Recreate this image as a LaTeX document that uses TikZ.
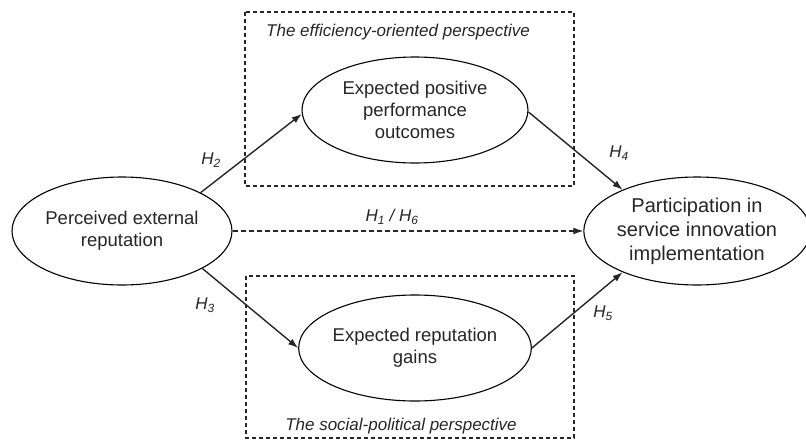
\documentclass[tikz,border=0pt]{standalone}
\usepackage{fontspec}
\setmainfont{Liberation Sans}
\usetikzlibrary{shapes.geometric,arrows.meta}

\begin{document}
\begin{tikzpicture}[x=1pt,y=-1pt]
		\tikzset{> = {Latex[length = 10pt, width = 7pt]}}
		\tikzset{construct/.style = {draw, ellipse, inner sep = 0pt, align = center, line width = 1.1pt, text = black!85, font = \fontsize{18.5}{22}\selectfont}}
		\tikzset{hyp/.style = {->, line width = 1.4pt, black!85}}
		\tikzset{group/.style = {dash pattern = on 4pt off 3pt, line width = 1.2pt, black!85}}
		\tikzset{hlabel/.style = {font = \fontsize{17}{20}\selectfont\itshape, text = black!85}}
		\useasboundingbox (0,0) rectangle (806,447);
		% perspectives
		\draw[group] (245,12) rectangle (574,186);
		\draw[group] (246,276) rectangle (574,438);
		\node[hlabel] (TE) at (398,32) {The efficiency-oriented perspective};
		\node[hlabel] (TS) at (401,426) {The social-political perspective};
		% constructs
		\node[construct, minimum width = 220pt, minimum height = 108pt] (R) at (122,231) {Perceived external\\reputation};
		\node[construct, minimum width = 226pt, minimum height = 106pt] (E) at (415,110) {Expected positive\\performance\\outcomes};
		\node[construct, minimum width = 226pt, minimum height = 106pt] (G) at (415,348) {Expected reputation\\gains};
		\node[construct, minimum width = 214pt, minimum height = 108pt, font = \fontsize{20}{24}\selectfont] (P) at (697,231) {Participation in\\service innovation\\implementation};
		% hypotheses
		\draw[hyp] (R.26) -- (E.182);
		\draw[hyp] (R.-25) -- (G.180);
		\draw[hyp] (E.-1) -- (P.151);
		\draw[hyp] (G.0) -- (P.209);
		\draw[hyp, dash pattern = on 5pt off 3pt, line width = 1.2pt] (R.east) -- (P.west);
		\node[hlabel] (H2) at (211,160) {H\textsubscript{2}};
		\node[hlabel] (H3) at (205,305) {H\textsubscript{3}};
		\node[hlabel] (H4) at (619,153) {H\textsubscript{4}};
		\node[hlabel] (H5) at (603,313) {H\textsubscript{5}};
		\node[hlabel] (H16) at (392,217) {H\textsubscript{1} / H\textsubscript{6}};
	\end{tikzpicture}
\end{document}
